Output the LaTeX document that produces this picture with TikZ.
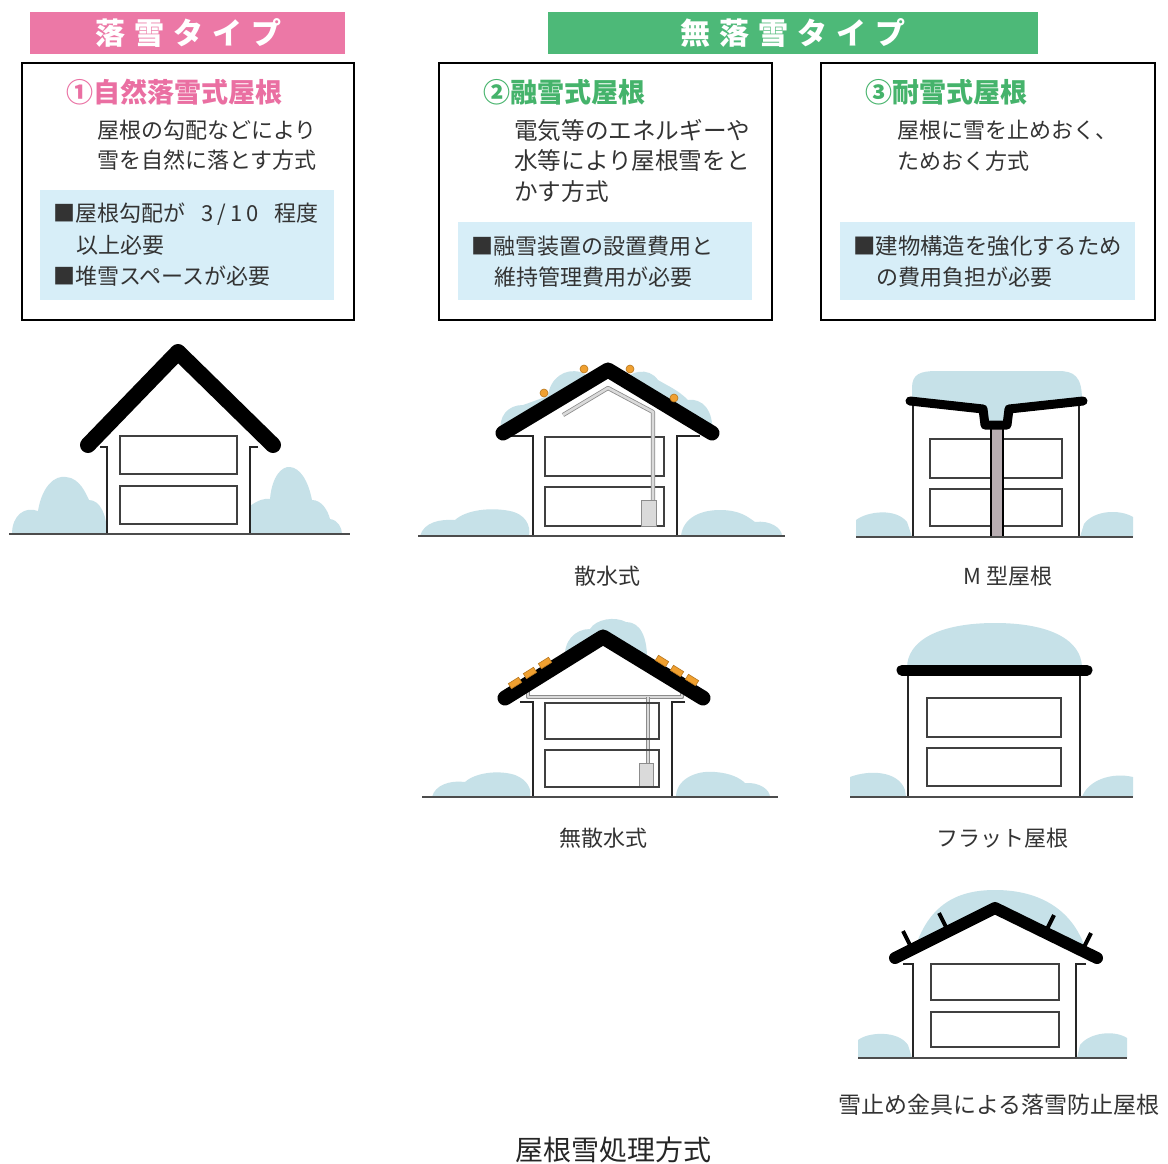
\documentclass[tikz,border=0pt]{standalone}
\usepackage{fontspec}
\setmainfont{Noto Sans CJK JP}
\definecolor{pinkhead}{HTML}{EC78A6}
\definecolor{greenhead}{HTML}{4DB978}
\definecolor{pinktitle}{HTML}{EA6FA2}
\definecolor{greentitle}{HTML}{45B36B}
\definecolor{panel}{HTML}{D7EEF8}
\definecolor{snow}{HTML}{C6E1E8}
\definecolor{txt}{HTML}{333333}
\definecolor{heat}{HTML}{F0A030}
\definecolor{heatedge}{HTML}{B8771E}
\definecolor{pipe}{HTML}{DADADA}
\definecolor{column}{HTML}{B8ADB1}
\begin{document}
\begin{tikzpicture}[x=1pt,y=-1pt,
  frame/.style={draw=black, line width=2.2pt},
  panelbox/.style={fill=panel, draw=none},
  head/.style={text=white, inner sep=0, font=\fontsize{30}{30}\selectfont\bfseries},
  title/.style={anchor=west, inner sep=0, font=\fontsize{27}{27}\selectfont\bfseries},
  body/.style={anchor=west, inner sep=0, text=txt, font=\fontsize{22}{22}\selectfont},
  widebody/.style={body, font=\fontsize{23.6}{23.6}\selectfont},
  caption/.style={inner sep=0, text=txt, font=\fontsize{22}{22}\selectfont},
  roof/.style={draw=black, line width=15pt, line cap=round, line join=round},
  wall/.style={draw=black!85, line width=2pt},
  win/.style={draw=black!75, line width=2pt},
  ground/.style={draw=black!70, line width=2pt},
  snowpile/.style={fill=snow, draw=none},
  heatpipe/.style={draw=black!45, double=pipe, double distance=2.6pt, line width=0.8pt, line join=round},
  tank/.style={fill=pipe, draw=black!45, line width=0.8pt},
  dot/.style={circle, fill=heat, draw=heatedge, line width=0.6pt, minimum size=8pt, inner sep=0},
  heatpanel/.style={fill=heat, draw=heatedge, line width=0.6pt, minimum width=12pt, minimum height=6pt, inner sep=0}
]
\useasboundingbox (0,0) rectangle (1168,1163);
\fill[white] (0,0) rectangle (1168,1163);

% ---------- headers ----------
\fill[pinkhead] (30,12) rectangle (345,54);
\node[head] (hfall) at (188,33) {落\hspace{0.3em}雪\hspace{0.3em}タ\hspace{0.3em}イ\hspace{0.3em}プ};
\fill[greenhead] (548,12) rectangle (1038,54);
\node[head] (hnofall) at (793,33) {無\hspace{0.3em}落\hspace{0.3em}雪\hspace{0.3em}タ\hspace{0.3em}イ\hspace{0.3em}プ};

% ---------- box 1 ----------
\draw[frame] (22,63) rectangle (354,320);
\node[title, text=pinktitle] (t1) at (66,92) {①自然落雪式屋根};
\node[body] (b1a) at (97,130) {屋根の勾配などにより};
\node[body] (b1b) at (97,160) {雪を自然に落とす方式};
\fill[panelbox] (40,190) rectangle (334,300);
\node[body] (p1a) at (53,214) {■屋根勾配が\hspace{0.75em}3\hspace{4pt}/\hspace{4pt}1\hspace{4pt}0\hspace{0.7em}程度};
\node[body] (p1b) at (76,245) {以上必要};
\node[body] (p1c) at (53,276) {■堆雪スペースが必要};

% ---------- box 2 ----------
\draw[frame] (439,63) rectangle (772,320);
\node[title, text=greentitle] (t2) at (483,92) {②融雪式屋根};
\node[widebody] (b2a) at (514,130) {電気等のエネルギーや};
\node[widebody] (b2b) at (514,161) {水等により屋根雪をと};
\node[widebody] (b2c) at (514,192) {かす方式};
\fill[panelbox] (458,222) rectangle (752,300);
\node[body] (p2a) at (471,246) {■融雪装置の設置費用と};
\node[body] (p2b) at (494,277) {維持管理費用が必要};

% ---------- box 3 ----------
\draw[frame] (821,63) rectangle (1155,320);
\node[title, text=greentitle] (t3) at (865,92) {③耐雪式屋根};
\node[body] (b3a) at (897,130) {屋根に雪を止めおく、};
\node[body] (b3b) at (897,161) {ためおく方式};
\fill[panelbox] (840,222) rectangle (1135,300);
\node[body, font=\fontsize{22.4}{22.4}\selectfont] (p3a) at (853,246) {■建物構造を強化するため};
\node[body] (p3b) at (876,277) {の費用負担が必要};

% ---------- house 1: natural shedding ----------
\fill[snowpile] (12,534) .. controls (12,515) and (25,506) .. (38,511)
  .. controls (42,486) and (55,475) .. (66,477) .. controls (80,478) and (86,494) .. (89,500)
  .. controls (100,500) and (107,515) .. (107,534) -- cycle;
\fill[snowpile] (250,534) -- (250,506) .. controls (258,500) and (265,498) .. (270,499)
  .. controls (272,476) and (282,466) .. (290,467) .. controls (300,468) and (308,480) .. (312,500)
  .. controls (322,500) and (328,511) .. (330,519) .. controls (338,520) and (342,528) .. (342,534) -- cycle;
\draw[wall] (100,447) -- (107,447) -- (107,534);
\draw[wall] (258,447) -- (250,447) -- (250,534);
\draw[win] (120,436) rectangle (237,474);
\draw[win] (120,486) rectangle (237,524);
\draw[roof, line width=16pt] (88,445) -- (178,352) -- (273,445);
\draw[ground] (9,534) -- (350,534);

% ---------- house 2: sprinkling ----------
\fill[snowpile] (420,536) .. controls (424,522) and (440,519) .. (455,520)
  .. controls (466,510) and (490,507) .. (510,511) .. controls (525,514) and (531,525) .. (529,536) -- cycle;
\fill[snowpile] (681,536) .. controls (683,518) and (700,510) .. (720,510)
  .. controls (740,510) and (748,517) .. (755,522) .. controls (770,520) and (782,528) .. (782,536) -- cycle;
\fill[snowpile] (501,433) .. controls (498,416) and (508,405) .. (523,405)
  .. controls (532,402) and (542,398) .. (548,396) .. controls (550,378) and (565,368) .. (580,372)
  .. controls (586,374) and (590,378) .. (592,380) -- cycle;
\fill[snowpile] (624,380) .. controls (630,372) and (648,366) .. (658,380)
  .. controls (668,386) and (678,390) .. (688,400) .. controls (702,398) and (714,410) .. (712,433) -- cycle;
\draw[wall] (510,436) -- (533,436) -- (533,536);
\draw[wall] (700,436) -- (677,436) -- (677,536);
\draw[win] (545,437) rectangle (664,476);
\draw[win] (545,487) rectangle (664,526);
\draw[heatpipe] (563,415) -- (608,388) -- (653,412) -- (653,500);
\draw[tank] (641,500) rectangle (656,526);
\draw[roof] (503,433) -- (608,370) -- (712,433);
\draw[ground] (418,536) -- (785,536);
\node[dot] (d1) at (544,393) {};
\node[dot] (d2) at (584,369) {};
\node[dot] (d3) at (630,369) {};
\node[dot] (d4) at (674,398) {};
\node[caption] (c1) at (607,576) {散水式};

% ---------- house 3: M-shaped roof ----------
\fill[snowpile] (856,537) -- (856,520) .. controls (868,511) and (896,508) .. (907,522) -- (912,537) -- cycle;
\fill[snowpile] (1080,537) -- (1084,524) .. controls (1094,510) and (1120,509) .. (1133,517) -- (1133,537) -- cycle;
\fill[snowpile] (912,401) -- (912,388) .. controls (912,374) and (920,371) .. (937,371)
  -- (1058,371) .. controls (1074,371) and (1082,376) .. (1082,400)
  -- (1009,408) -- (1007,425) -- (985,425) -- (983,408) -- cycle;
\draw[wall] (913,403) -- (913,537);
\draw[wall] (1079,403) -- (1079,537);
\draw[win] (930,439) rectangle (1062,478);
\draw[win] (930,489) rectangle (1062,526);
\draw[fill=column, draw=black, line width=1.6pt] (991,426) rectangle (1003,537);
\draw[roof, line width=9pt] (910,401) -- (983,409) -- (985,425) -- (1007,425) -- (1009,409) -- (1083,401);
\draw[ground] (856,537) -- (1133,537);
\node[caption] (c2) at (1008,576) {M 型屋根};

% ---------- house 4: non-sprinkling ----------
\fill[snowpile] (432,797) .. controls (435,785) and (450,780) .. (465,782)
  .. controls (476,772) and (500,770) .. (515,775) .. controls (528,780) and (532,790) .. (530,797) -- cycle;
\fill[snowpile] (676,797) .. controls (676,780) and (695,770) .. (715,772)
  .. controls (730,773) and (740,778) .. (745,783) .. controls (760,782) and (770,790) .. (770,797) -- cycle;
\fill[snowpile] (565,660) .. controls (563,641) and (575,629) .. (590,629)
  .. controls (596,619) and (615,616) .. (626,622) .. controls (640,622) and (648,636) .. (647,664)
  -- (603,637) -- cycle;
\draw[heatpipe] (528,678) -- (528,697) -- (682,697) -- (682,678);
\draw[heatpipe] (648,697) -- (648,763);
\draw[tank] (639,763) rectangle (653,787);
\draw[wall] (520,702) -- (533,702) -- (533,797);
\draw[wall] (685,702) -- (672,702) -- (672,797);
\draw[win] (545,703) rectangle (659,739);
\draw[win] (545,750) rectangle (659,787);
\draw[roof] (505,698) -- (603,637) -- (703,698);
\node[heatpanel, rotate=32] (h1) at (515,683) {};
\node[heatpanel, rotate=32] (h2) at (530,673) {};
\node[heatpanel, rotate=32] (h3) at (545,663) {};
\node[heatpanel, rotate=-32] (h4) at (662,661) {};
\node[heatpanel, rotate=-32] (h5) at (677,671) {};
\node[heatpanel, rotate=-32] (h6) at (692,680) {};
\draw[ground] (422,797) -- (778,797);
\node[caption] (c3) at (603,838) {無散水式};

% ---------- house 5: flat roof ----------
\fill[snowpile] (850,797) -- (850,777) .. controls (868,770) and (898,770) .. (905,790) -- (906,797) -- cycle;
\fill[snowpile] (1082,797) .. controls (1088,780) and (1112,772) .. (1133,777) -- (1133,797) -- cycle;
\fill[snowpile] (907,668) .. controls (907,640) and (940,623) .. (995,623)
  .. controls (1050,623) and (1082,640) .. (1082,668) -- cycle;
\draw[wall] (908,672) -- (908,797);
\draw[wall] (1080,672) -- (1080,797);
\draw[win] (927,698) rectangle (1061,737);
\draw[win] (927,748) rectangle (1061,786);
\draw[roof, line width=11pt] (902,670) -- (1087,670);
\draw[ground] (850,797) -- (1133,797);
\node[caption] (c4) at (1002,838) {フラット屋根};

% ---------- house 6: snow guards ----------
\fill[snowpile] (858,1058) -- (858,1040) .. controls (868,1032) and (898,1030) .. (908,1045) -- (912,1058) -- cycle;
\fill[snowpile] (1077,1058) -- (1080,1045) .. controls (1090,1032) and (1115,1030) .. (1127,1038) -- (1127,1058) -- cycle;
\fill[snowpile] (915,948) .. controls (930,902) and (960,890) .. (995,890)
  .. controls (1040,890) and (1075,910) .. (1087,954) -- (995,908) -- cycle;
\draw[wall] (903,964) -- (913,964) -- (913,1058);
\draw[wall] (1086,964) -- (1076,964) -- (1076,1058);
\draw[win] (931,964) rectangle (1059,1000);
\draw[win] (931,1012) rectangle (1059,1047);
\draw[line width=4pt] (912,949) -- (903,931);
\draw[line width=4pt] (948,931) -- (939,913);
\draw[line width=4pt] (1045,933) -- (1054,915);
\draw[line width=4pt] (1082,951) -- (1091,933);
\draw[roof, line width=12pt] (895,958) -- (995,908) -- (1097,958);
\draw[ground] (858,1058) -- (1127,1058);
\node[caption, font=\fontsize{23}{23}\selectfont] (c5) at (999,1105) {雪止め金具による落雪防止屋根};

% ---------- figure caption ----------
\node[caption, text=black!85, font=\fontsize{28}{28}\selectfont] (fig) at (613,1150) {屋根雪処理方式};
\end{tikzpicture}
\end{document}
